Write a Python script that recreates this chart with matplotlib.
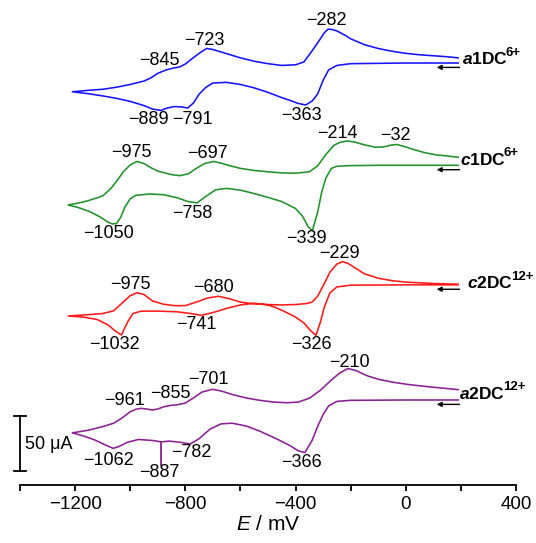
import matplotlib.pyplot as plt
from matplotlib.ticker import MultipleLocator

plt.rcParams['font.family'] = ['Liberation Sans', 'DejaVu Sans']
plt.rcParams['mathtext.fontset'] = 'custom'
plt.rcParams['mathtext.rm'] = 'Liberation Sans'
plt.rcParams['mathtext.it'] = 'Liberation Sans:italic'
plt.rcParams['mathtext.bf'] = 'Liberation Sans:bold'
plt.rcParams['mathtext.bfit'] = 'Liberation Sans:italic:bold'

# ---- a1DC6+ (blue) ----
a1_fwd_E = [190, 100, 0, -100, -200, -250, -280, -300, -320, -340, -363, -390, -420, -450, -500,
            -550, -600, -650, -700, -725, -750, -770, -791, -815, -840, -865, -889, -920, -950,
            -1000, -1050, -1100, -1150, -1210]
a1_fwd_I = [-2.2, -2.2, -2.2, -2.5, -2.8, -4.4, -8.5, -17.9, -30.5, -36.8, -40.3, -39.0, -36.2,
            -33.7, -28.9, -24.8, -21.7, -19.8, -20.4, -24.2, -30.5, -38.4, -43.1, -42.1, -41.8,
            -43.1, -45.3, -44.0, -40.9, -37.1, -34.3, -32.1, -30.2, -28.3]
a1_rev_E = [-1210, -1150, -1100, -1050, -1000, -950, -925, -900, -870, -845, -820, -800, -775,
            -750, -723, -700, -650, -600, -550, -500, -450, -400, -370, -340, -310, -295, -282,
            -268, -250, -220, -200, -150, -100, -50, 0, 50, 100, 150, 190]
a1_rev_I = [-28.3, -27.0, -26.1, -24.2, -21.7, -18.6, -15.7, -11.6, -8.5, -6.9, -5.7, -3.1, 1.9,
            6.6, 11.0, 10.1, 6.3, 2.5, -0.6, -2.8, -4.4, -3.8, -1.3, 8.8, 19.8, 25.5, 28.6, 28.3,
            27.0, 23.0, 19.8, 14.5, 11.0, 8.5, 6.6, 5.3, 4.4, 3.5, 2.5]

# ---- c1DC6+ (green) ----
c1_fwd_E = [190, 100, 0, -100, -200, -250, -270, -290, -305, -320, -339, -355, -375, -400, -450,
            -500, -550, -600, -650, -690, -720, -758, -790, -830, -880, -930, -980, -1000, -1020,
            -1035, -1050, -1065, -1080, -1110, -1150, -1190, -1225]
c1_fwd_I = [-3.5, -3.5, -3.5, -3.5, -3.8, -4.4, -6.3, -15.1, -27.7, -46.5, -62.9, -59.1, -49.7,
            -42.8, -36.5, -32.7, -29.2, -26.1, -24.5, -25.8, -30.8, -37.7, -36.5, -33.0, -30.2,
            -29.6, -30.8, -34.0, -41.8, -51.0, -56.5, -56.8, -55.3, -50.3, -45.3, -41.8, -39.6]
c1_rev_E = [-1225, -1180, -1150, -1100, -1070, -1050, -1025, -1000, -975, -950, -925, -900, -850,
            -820, -790, -760, -730, -697, -670, -640, -600, -550, -500, -450, -400, -350, -320,
            -290, -260, -240, -214, -190, -150, -110, -80, -55, -32, 0, 30, 70, 110, 150, 190]
c1_rev_I = [-39.6, -37.4, -35.5, -31.4, -24.5, -18.2, -9.4, -3.1, 0.0, -1.9, -5.7, -8.8, -12.0,
            -12.9, -11.3, -6.3, -1.9, 0.0, -1.6, -3.8, -6.3, -8.2, -9.4, -10.4, -10.7, -9.4, -4.1,
            6.3, 14.8, 17.3, 18.6, 17.9, 15.1, 12.9, 13.2, 14.8, 15.4, 13.2, 10.7, 7.9, 6.0, 5.0,
            3.8]

# ---- c2DC12+ (red) ----
c2_fwd_E = [190, 0, -200, -250, -275, -295, -310, -326, -345, -370, -400, -430, -470, -500, -550,
            -600, -650, -690, -741, -780, -830, -900, -960, -990, -1010, -1032, -1055, -1080,
            -1120, -1170, -1225]
c2_fwd_I = [-0.3, -0.3, -0.6, -2.2, -7.5, -20.1, -34.3, -46.2, -42.1, -34.9, -29.6, -25.8, -21.1,
            -18.6, -17.0, -18.6, -21.7, -24.8, -28.0, -26.4, -24.8, -24.2, -24.2, -26.4, -34.3,
            -45.9, -42.1, -36.8, -31.8, -29.6, -28.6]
c2_rev_E = [-1225, -1150, -1100, -1060, -1030, -1000, -975, -950, -920, -880, -840, -800, -760,
            -720, -680, -640, -600, -550, -500, -450, -400, -360, -340, -320, -300, -275, -250,
            -229, -210, -180, -150, -100, -50, 0, 100, 190]
c2_rev_I = [-28.6, -27.4, -26.4, -23.9, -17.0, -10.1, -7.5, -9.1, -14.8, -17.9, -19.2, -19.2,
            -16.0, -12.3, -10.7, -12.9, -16.0, -17.6, -18.2, -18.6, -18.2, -17.3, -16.0, -10.7,
            -1.3, 11.3, 18.6, 20.8, 19.2, 14.5, 9.7, 5.7, 3.5, 2.2, 0.9, 0.3]

# ---- a2DC12+ (purple) ----
a2_fwd_E = [190, 0, -200, -250, -280, -300, -320, -340, -366, -390, -420, -470, -530, -580, -630,
            -670, -710, -750, -782, -820, -860, -887, -920, -970, -1010, -1040, -1062, -1090,
            -1130, -1170, -1210]
a2_fwd_I = [-4.7, -4.7, -5.0, -6.0, -10.1, -17.9, -28.9, -41.5, -52.5, -50.9, -46.2, -39.9, -33.0,
            -28.3, -25.8, -26.4, -31.1, -39.9, -44.7, -43.1, -42.1, -42.8, -41.5, -40.6, -43.1,
            -46.9, -48.7, -45.6, -40.9, -37.4, -34.6]
a2_rev_E = [-1210, -1150, -1100, -1060, -1030, -1000, -980, -961, -940, -920, -900, -880, -855,
            -830, -800, -770, -740, -701, -670, -630, -580, -530, -480, -430, -390, -350, -310,
            -270, -240, -210, -180, -140, -100, -50, 0, 50, 100, 150, 190]
a2_rev_I = [-34.6, -32.1, -28.9, -25.8, -21.1, -15.4, -13.2, -12.3, -12.9, -13.8, -12.9, -11.0,
            -9.7, -9.1, -7.5, -2.8, 2.5, 5.0, 3.5, 0.3, -2.8, -5.0, -6.6, -7.2, -6.6, -3.1, 4.1,
            13.5, 19.8, 23.9, 22.0, 17.3, 14.2, 11.6, 9.7, 8.2, 6.9, 5.7, 4.7]

names = [r'$\mathbfit{a}\mathbf{1DC}$', r'$\mathbfit{c}\mathbf{1DC}$',
         r'$\mathbfit{c}\mathbf{2DC}$', r'$\mathbfit{a}\mathbf{2DC}$']
charges = ['6+', '6+', '12+', '12+']
colors = ['#1414ff', '#22922a', '#ff1a1a', '#8c1f96']
offsets = [385.9, 294.2, 182.3, 82.0]

# peak labels: (text, x, y)
a1_peaks = [('−282', -289, 422.3), ('−723', -730, 404.4), ('−845', -896, 385.9),
            ('−889', -933, 332.7), ('−791', -774, 332.7), ('−363', -378, 335.8)]
c1_peaks = [('−214', -248, 319.6), ('−32', -37, 318.1), ('−975', -996, 302.6),
            ('−697', -719, 301.7), ('−1050', -1078, 228.4), ('−758', -774, 247.0),
            ('−339', -359, 223.8)]
c2_peaks = [('−229', -241, 210.8), ('−975', -1000, 182.3), ('−680', -696, 179.6),
            ('−741', -759, 145.6), ('−1032', -1056, 128.0), ('−326', -344, 128.0)]
a2_peaks = [('−210', -204, 111.6), ('−701', -715, 95.9), ('−855', -856, 82.9),
            ('−961', -1019, 76.7), ('−1062', -1078, 22.5), ('−887', -896, 11.0),
            ('−782', -778, 29.4), ('−366', -378, 20.5)]

curves = [(a1_fwd_E, a1_fwd_I, a1_rev_E, a1_rev_I, a1_peaks),
          (c1_fwd_E, c1_fwd_I, c1_rev_E, c1_rev_I, c1_peaks),
          (c2_fwd_E, c2_fwd_I, c2_rev_E, c2_rev_I, c2_peaks),
          (a2_fwd_E, a2_fwd_I, a2_rev_E, a2_rev_I, a2_peaks)]
name_x = [203, 196, 222, 192]

fig = plt.figure(figsize=(5.36, 5.43), dpi=100)
ax = fig.add_axes([20 / 536, 58 / 543, 496 / 536, 485 / 543])
ax.set_xlim(-1400, 400)
ax.set_ylim(0, 441)

for i, (fE, fI, rE, rI, peaks) in enumerate(curves):
    off = offsets[i]
    E = fE + rE
    I = [v + off for v in fI + rI]
    ax.plot(E, I, color=colors[i], lw=1.15, solid_joinstyle='round')
    for txt, x, y in peaks:
        ax.text(x, y, txt, fontsize=13, ha='center', va='center')
    t = ax.text(name_x[i], off + 1, names[i], fontsize=12.5, ha='left', va='center')
    ax.annotate(charges[i], xy=(1, 1), xycoords=t, xytext=(-1.3, 3.5),
                textcoords='offset points', fontsize=9.5, fontweight='bold',
                ha='left', va='top')
    # scan direction arrow
    ya = off + fI[0] - 4
    ax.annotate('', xy=(112, ya), xytext=(195, ya),
                arrowprops=dict(arrowstyle='-|>', lw=1.0, color='black',
                                mutation_scale=7, shrinkA=0, shrinkB=0))

# marker line at -887 on a2DC
ax.plot([-887, -887], [a2_fwd_I[21] + offsets[3], 18], color=colors[3], lw=1.3)

# 50 uA scale bar
ax.plot([-1400, -1400], [13, 63], color='black', lw=1.3, clip_on=False)
ax.plot([-1420, -1380], [13, 13], color='black', lw=1.3, clip_on=False)
ax.plot([-1420, -1380], [63, 63], color='black', lw=1.3, clip_on=False)
ax.text(-1382, 36.4, '50 μA', fontsize=13, ha='left', va='center')

for s in ['left', 'top', 'right']:
    ax.spines[s].set_visible(False)
ax.spines['bottom'].set_linewidth(1.3)
ax.set_yticks([])
ax.xaxis.set_major_locator(MultipleLocator(400))
ax.xaxis.set_minor_locator(MultipleLocator(200))
ax.tick_params(axis='x', which='both', length=4, width=1.3, direction='out', labelsize=13.5,
               pad=4)
ax.set_xlabel(r'$\mathit{E}$ / mV', fontsize=15, labelpad=1)

fig.savefig('out.png', dpi=100)
